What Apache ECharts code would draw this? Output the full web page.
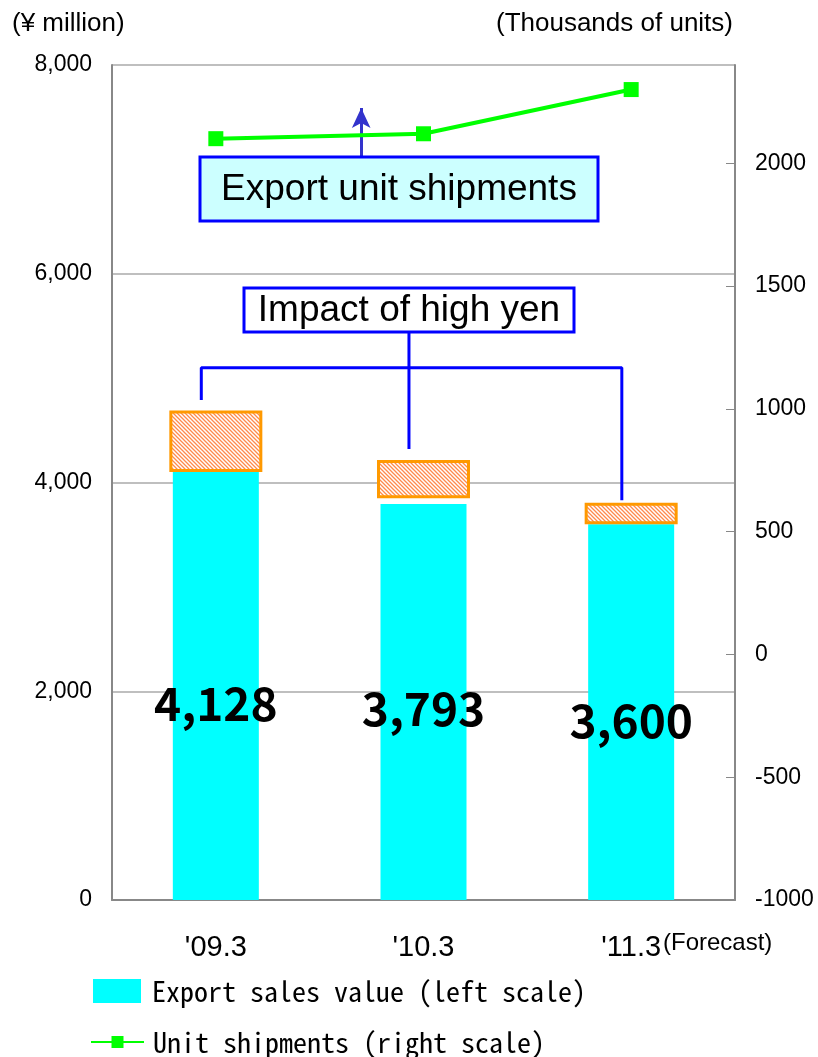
<!DOCTYPE html>
<html><head><meta charset="utf-8">
<script src="https://cdn.jsdelivr.net/npm/echarts@6/dist/echarts.min.js"></script>
<style>html,body{margin:0;padding:0;background:#fff}#c{width:818px;height:1057px}</style>
</head><body><div id="c"></div>
<script>
// ---- data ----
const categories = ["'09.3", "'10.3", "'11.3"];
const exportSales = [4128, 3793, 3600];           // ¥ million (left)
const unitShipments = [2100, 2120, 2300];         // thousands of units (right)
const impactBase = [4100, 3850, 3600];            // hatched box bottom (¥ million)
const impactSize = [590, 365, 205];               // hatched box height (¥ million)
const leftTicks = {min: 0, max: 8000, interval: 2000};
const rightTicks = {min: -1000, max: 2400, interval: 500};
// annotation geometry in data space (hidden value x axis 0..3)
const bracketPath = [[0.43, 4790], [0.43, 5100], [2.455, 5100], [2.455, 3830]];
const bracketStem = [[1.43, 4320], [1.43, 5440]];
const arrowPath = [[1.2, 2024], [1.2, 2225]];
const labelLift = [173, 168, 156];

// hatch pattern
const pc = document.createElement('canvas');
pc.width = 4; pc.height = 4;
const g = pc.getContext('2d');
g.fillStyle = '#ffffff'; g.fillRect(0, 0, 4, 4);
g.strokeStyle = '#FF8A4C'; g.lineWidth = 1.3;
g.beginPath();
g.moveTo(-1, -1); g.lineTo(5, 5);
g.moveTo(3, -1); g.lineTo(5, 1);
g.moveTo(-1, 3); g.lineTo(1, 5);
g.stroke();

const chart = echarts.init(document.getElementById('c'), null, {renderer: 'canvas'});
const axisFont = 'Liberation Sans, Arial, sans-serif';
const gothicMono = '"Noto Sans Mono CJK JP", "Noto Sans CJK JP", sans-serif';
const gothic = '"Noto Sans CJK JP", sans-serif';

const option = {
  animation: false,
  grid: {left: 112, right: 83, top: 65, bottom: 157, show: false},
  xAxis: [
    {type: 'category', data: categories,
     axisLine: {lineStyle: {color: '#888', width: 2}},
     axisTick: {inside: true, length: 6, lineStyle: {color: '#888'}},
     axisLabel: {fontFamily: axisFont, fontSize: 29, color: '#000', margin: 33}},
    {type: 'category', data: categories, show: false},
    {type: 'value', min: 0, max: 3, show: false}
  ],
  yAxis: [
    {type: 'value', min: leftTicks.min, max: leftTicks.max, interval: leftTicks.interval,
     axisLine: {show: true, lineStyle: {color: '#888', width: 2}},
     axisTick: {show: false},
     splitLine: {lineStyle: {color: '#aaa', width: 1.5}},
     axisLabel: {fontFamily: axisFont, fontSize: 23, color: '#000', margin: 20,
       formatter: v => v.toLocaleString('en-US')}},
    {type: 'value', min: rightTicks.min, max: rightTicks.max, interval: rightTicks.interval,
     position: 'right',
     axisLine: {show: true, lineStyle: {color: '#888', width: 2}},
     axisTick: {show: true, inside: true, length: 9, lineStyle: {color: '#888'}},
     splitLine: {show: false},
     axisLabel: {fontFamily: axisFont, fontSize: 23, color: '#000', margin: 20, showMaxLabel: false,
       formatter: v => (v % 500 === 0 ? String(v) : '')}}
  ],
  legend: [
    {data: [{name: 'Export sales value (left scale)', icon: 'rect'}], orient: 'vertical', left: 93, top: 977,
     padding: 0, itemWidth: 48, itemHeight: 24, itemGap: 10,
     textStyle: {fontFamily: gothicMono, fontSize: 28, color: '#000', padding: [0, 0, 0, 6]}},
    {data: ['Unit shipments (right scale)'], orient: 'vertical', left: 90, top: 1028,
     padding: 0, itemWidth: 53, itemHeight: 15,
     textStyle: {fontFamily: gothicMono, fontSize: 28, color: '#000', padding: [0, 0, 0, 4]}}
  ],
  series: [
    {name: 'Export sales value (left scale)', type: 'bar', xAxisIndex: 0, yAxisIndex: 0,
     barWidth: 86, itemStyle: {color: '#00FFFF'},
     data: exportSales.map((v, i) => ({value: v,
       label: {show: true, position: 'insideBottom', distance: labelLift[i]}})),
     label: {fontFamily: gothic, fontSize: 46, fontWeight: 'bold', color: '#000',
       formatter: p => p.value.toLocaleString('en-US')}, z: 2},
    {name: 'impactBase', type: 'bar', xAxisIndex: 1, yAxisIndex: 0, stack: 'imp',
     barWidth: 93, itemStyle: {color: 'transparent'}, data: impactBase, z: 3, silent: true},
    {name: 'impact', type: 'bar', xAxisIndex: 1, yAxisIndex: 0, stack: 'imp',
     barWidth: 93,
     itemStyle: {color: {image: pc, repeat: 'repeat'}, borderColor: '#FF9900', borderWidth: 3},
     data: impactSize, z: 3},
    {name: 'Unit shipments (right scale)', type: 'line', xAxisIndex: 0, yAxisIndex: 1,
     data: unitShipments, symbol: 'rect', symbolSize: 15,
     lineStyle: {color: '#00FF00', width: 4}, itemStyle: {color: '#00FF00'}, z: 5},
    {name: 'bracket', type: 'line', xAxisIndex: 2, yAxisIndex: 0, data: bracketPath,
     symbol: 'none', lineStyle: {color: '#0000FF', width: 3}, z: 4},
    {name: 'stem', type: 'line', xAxisIndex: 2, yAxisIndex: 0, data: bracketStem,
     symbol: 'none', lineStyle: {color: '#0000FF', width: 3}, z: 4},
    {name: 'arrow', type: 'line', xAxisIndex: 2, yAxisIndex: 1, data: [],
     markLine: {silent: true, symbol: ['none', 'arrow'], symbolSize: [14, 20], label: {show: false},
       lineStyle: {color: '#3333CC', width: 3, type: 'solid'},
       data: [[{coord: arrowPath[0]}, {coord: arrowPath[1]}]]}, z: 4}
  ],
  graphic: [
    {type: 'text', left: 12, top: 11, style: {text: '(¥ million)', font: '26px ' + axisFont, fill: '#000'}},
    {type: 'text', right: 85, top: 11, style: {text: '(Thousands of units)', font: '26px ' + axisFont, fill: '#000'}},
    {type: 'text', left: 663, top: 931, style: {text: '(Forecast)', font: '24px ' + axisFont, fill: '#000'}},
    {type: 'rect', shape: {x: 200, y: 157, width: 398, height: 64}, z: 10,
     style: {fill: '#CCFFFF', stroke: '#0000FF', lineWidth: 3}},
    {type: 'text', x: 399, y: 190, z: 11,
     style: {text: 'Export unit shipments', font: '37px ' + axisFont, fill: '#000', align: 'center', verticalAlign: 'middle'}},
    {type: 'rect', shape: {x: 244, y: 288, width: 330, height: 44}, z: 10,
     style: {fill: '#FFFFFF', stroke: '#0000FF', lineWidth: 3}},
    {type: 'text', x: 409, y: 311, z: 11,
     style: {text: 'Impact of high yen', font: '37px ' + axisFont, fill: '#000', align: 'center', verticalAlign: 'middle'}}
  ]
};
chart.setOption(option);
</script></body></html>
